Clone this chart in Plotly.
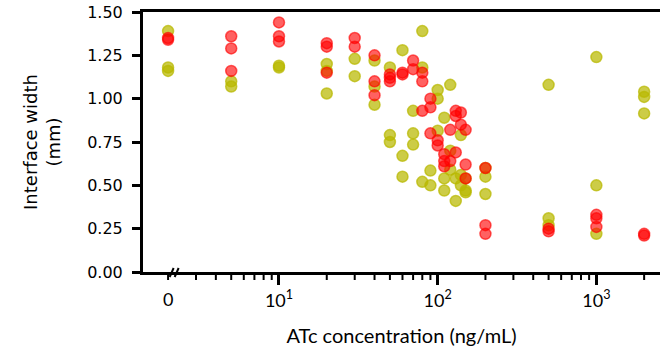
import numpy as np
import plotly.graph_objects as go

# ---------------- data ----------------
red_x = [0, 0,
         5, 5, 5,
         10, 10, 10,
         20, 20, 20,
         30, 30,
         40, 40, 40,
         50, 50, 50,
         60, 60,
         70, 70,
         80, 80, 80,
         90, 90, 90,
         100, 100,
         110, 110, 110,
         120, 120,
         130, 130, 130,
         140, 140,
         150, 150, 150,
         200, 200, 200,
         500, 500,
         1000, 1000, 1000,
         2000, 2000]
red_y = [1.34, 1.35,
         1.36, 1.29, 1.16,
         1.44, 1.36, 1.33,
         1.32, 1.30, 1.15,
         1.35, 1.30,
         1.25, 1.10, 1.02,
         1.14, 1.12, 1.10,
         1.14, 1.15,
         1.22, 1.17,
         1.15, 1.10, 0.93,
         1.00, 0.95, 0.80,
         0.76, 0.73,
         0.68, 0.64, 0.61,
         0.82, 0.64,
         0.93, 0.90, 0.69,
         0.92, 0.85,
         0.82, 0.62, 0.54,
         0.60, 0.27, 0.22,
         0.25, 0.235,
         0.33, 0.31, 0.26,
         0.22, 0.21]

yellow_x = [0, 0, 0,
            5, 5,
            10, 10,
            20, 20, 20,
            30, 30,
            40, 40, 40,
            50, 50, 50,
            60, 60, 60,
            70, 70, 70,
            80, 80, 80,
            90, 90,
            100, 100, 100,
            110, 110, 110,
            120, 120, 120,
            130, 130,
            140, 140, 140,
            150, 150, 150,
            200, 200, 200,
            500, 500, 500,
            1000, 1000, 1000,
            2000, 2000, 2000]
yellow_y = [1.39, 1.18, 1.16,
            1.10, 1.07,
            1.19, 1.18,
            1.20, 1.16, 1.03,
            1.23, 1.13,
            1.22, 1.07, 0.965,
            1.18, 0.79, 0.75,
            1.28, 0.67, 0.55,
            0.93, 0.80, 0.735,
            1.39, 1.18, 0.52,
            0.585, 0.50,
            1.05, 1.00, 0.815,
            0.89, 0.54, 0.47,
            1.08, 0.70, 0.59,
            0.54, 0.41,
            0.79, 0.56, 0.50,
            0.54, 0.47, 0.46,
            0.60, 0.55, 0.45,
            1.08, 0.31, 0.27,
            1.24, 0.50, 0.22,
            1.04, 1.01, 0.915]

x_major_vals = [10, 100, 1000]
x_major_text = ["10<sup>1</sup>", "10<sup>2</sup>", "10<sup>3</sup>"]
x_minor_vals = [2, 3, 4, 5, 6, 7, 8, 9,
                20, 30, 40, 50, 60, 70, 80, 90,
                200, 300, 400, 500, 600, 700, 800, 900,
                2000]
y_tick_vals = [0, 0.25, 0.5, 0.75, 1.0, 1.25, 1.5]
y_tick_text = ["0.00", "0.25", "0.50", "0.75", "1.00", "1.25", "1.50"]

ZERO_PLOT_VALUE = 2.0   # where concentration 0 is drawn on the log axis (broken axis)
BREAK_VALUE = 2.2       # position of the axis break mark
X_RANGE = [0.143, 3.401]  # log10 range

RED = "rgba(255,0,0,0.62)"
YEL = "rgba(185,185,0,0.72)"


def place(xs):
    a = np.asarray(xs, dtype=float)
    return np.where(a == 0, ZERO_PLOT_VALUE, a)


fig = go.Figure()
fig.add_trace(go.Scatter(
    x=place(yellow_x), y=yellow_y, mode="markers",
    marker=dict(size=11, color=YEL, line=dict(color=YEL, width=1.5)),
    showlegend=False))
fig.add_trace(go.Scatter(
    x=place(red_x), y=red_y, mode="markers",
    marker=dict(size=11, color=RED, line=dict(color=RED, width=1.5)),
    showlegend=False))

# "0" label at the broken-axis position
fig.add_annotation(x=np.log10(ZERO_PLOT_VALUE), y=0, xref="x", yref="y",
                   text="0", showarrow=False, yanchor="top", yshift=-14,
                   font=dict(family="Lato", size=18, color="black"))

# minor (short) ticks of the log axis (shape x given in data values)
for v in x_minor_vals:
    fig.add_shape(type="line", xref="x", yref="paper",
                  ysizemode="pixel", yanchor=0,
                  x0=v, x1=v, y0=-2, y1=-8,
                  line=dict(color="black", width=2))

# axis break marks "//"
brk = (np.log10(BREAK_VALUE) - X_RANGE[0]) / (X_RANGE[1] - X_RANGE[0])
for off in (-3, 2):
    fig.add_shape(type="line", xref="paper", yref="paper",
                  xsizemode="pixel", ysizemode="pixel",
                  xanchor=brk, yanchor=0,
                  x0=off - 2, x1=off + 2, y0=-5, y1=4,
                  line=dict(color="black", width=2))

fig.update_layout(
    width=660, height=350,
    margin=dict(l=143, r=0, t=12, b=78),
    plot_bgcolor="white", paper_bgcolor="white",
    font=dict(family="DejaVu Sans", color="black"),
    xaxis=dict(
        type="log", range=X_RANGE,
        tickmode="array", tickvals=x_major_vals, ticktext=x_major_text,
        ticks="outside", ticklen=10, tickwidth=2.5, tickcolor="black",
        showline=True, linewidth=3, linecolor="black", mirror=True,
        showgrid=False, zeroline=False,
        tickfont=dict(family="Lato", size=18, color="black"),
        title=dict(text="ATc concentration (ng/mL)",
                   font=dict(family="Lato", size=20, color="black"), standoff=20),
    ),
    yaxis=dict(
        range=[0, 1.5],
        tickvals=y_tick_vals, ticktext=y_tick_text,
        ticks="outside", ticklen=8, tickwidth=2.5, tickcolor="black",
        showline=True, linewidth=3, linecolor="black",
        showgrid=False, zeroline=False,
        tickfont=dict(family="DejaVu Sans", size=16, color="black"),
        ticklabelstandoff=6,
        title=dict(text="Interface width<br>(mm)",
                   font=dict(family="DejaVu Sans", size=18, color="black"), standoff=22),
    ),
)

fig.write_html("out.html")
